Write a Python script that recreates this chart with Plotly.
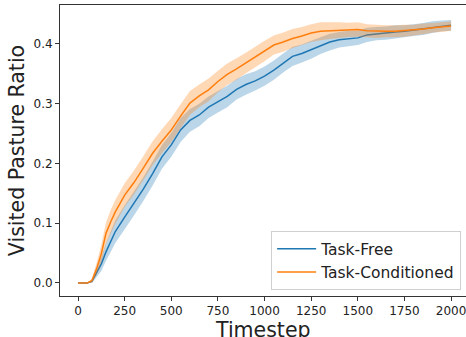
import plotly.graph_objects as go

steps = [0, 25, 50, 75, 100, 125, 150, 175, 200, 250, 300, 350, 400, 450, 500,
         550, 600, 650, 700, 750, 800, 850, 900, 950, 1000, 1050, 1100, 1150,
         1200, 1250, 1300, 1350, 1400, 1450, 1500, 1550, 1600, 1650, 1700,
         1750, 1800, 1850, 1900, 1950, 2000]

free_mean = [0.0, 0.0, 0.0, 0.003, 0.018, 0.032, 0.052, 0.069, 0.086, 0.110,
             0.133, 0.157, 0.183, 0.211, 0.231, 0.256, 0.272, 0.281, 0.294,
             0.303, 0.312, 0.324, 0.332, 0.338, 0.346, 0.356, 0.368, 0.379,
             0.384, 0.390, 0.397, 0.403, 0.407, 0.409, 0.410, 0.415, 0.417,
             0.418, 0.420, 0.421, 0.423, 0.425, 0.428, 0.430, 0.431]
free_err = [0.0, 0.0, 0.0, 0.003, 0.008, 0.012, 0.015, 0.017, 0.019, 0.020,
            0.020, 0.020, 0.020, 0.020, 0.020, 0.020, 0.019, 0.019, 0.018,
            0.018, 0.018, 0.017, 0.017, 0.016, 0.016, 0.016, 0.016, 0.016,
            0.015, 0.015, 0.014, 0.014, 0.013, 0.013, 0.012, 0.012, 0.011,
            0.011, 0.011, 0.010, 0.010, 0.010, 0.010, 0.009, 0.009]

cond_mean = [0.0, 0.0, 0.0, 0.004, 0.024, 0.049, 0.083, 0.102, 0.119, 0.147,
             0.168, 0.192, 0.217, 0.237, 0.256, 0.279, 0.301, 0.313, 0.323,
             0.337, 0.349, 0.358, 0.368, 0.378, 0.388, 0.398, 0.403, 0.409,
             0.413, 0.418, 0.421, 0.422, 0.423, 0.4235, 0.424, 0.422, 0.421,
             0.421, 0.421, 0.422, 0.423, 0.425, 0.427, 0.428, 0.430]
cond_err = [0.0, 0.0, 0.0, 0.004, 0.010, 0.015, 0.018, 0.020, 0.020, 0.020,
            0.020, 0.020, 0.020, 0.020, 0.020, 0.020, 0.020, 0.019, 0.019,
            0.018, 0.018, 0.018, 0.017, 0.017, 0.017, 0.016, 0.016, 0.016,
            0.015, 0.015, 0.015, 0.014, 0.013, 0.012, 0.012, 0.011, 0.011,
            0.010, 0.010, 0.010, 0.009, 0.009, 0.008, 0.008, 0.008]

series = [
    ("Task-Free", free_mean, free_err, "#1f77b4", "rgba(31,119,180,0.3)"),
    ("Task-Conditioned", cond_mean, cond_err, "#ff7f0e", "rgba(255,127,14,0.3)"),
]

fig = go.Figure()
for name, mean, err, col, fillcol in series:
    upper = [m + e for m, e in zip(mean, err)]
    lower = [m - e for m, e in zip(mean, err)]
    fig.add_trace(go.Scatter(x=steps + steps[::-1], y=upper + lower[::-1],
                             fill="toself", fillcolor=fillcol, mode="none",
                             showlegend=False, hoverinfo="skip"))
    fig.add_trace(go.Scatter(x=steps, y=mean, mode="lines", name=name,
                             line=dict(color=col, width=1.5)))

fig.update_layout(
    width=466, height=337,
    margin=dict(l=60, r=0, t=5, b=41),
    plot_bgcolor="white", paper_bgcolor="white",
    font=dict(family="DejaVu Sans", size=12, color="#222"),
    legend=dict(x=0.988, y=0.02, xanchor="right", yanchor="bottom",
                bgcolor="rgba(255,255,255,0.8)", bordercolor="#d0d0d0",
                borderwidth=1, font=dict(size=15.5), tracegroupgap=0,
                itemwidth=39),
)
# x title as an annotation so it can sit a little lower than plotly allows
fig.add_annotation(text="Timestep", xref="paper", yref="paper", x=0.5,
                   y=-0.117, yanchor="middle", showarrow=False,
                   font=dict(size=20.5))
fig.update_xaxes(range=[-96.5, 2080], tickvals=list(range(0, 2001, 250)),
                 showgrid=False, zeroline=False, showline=True, linecolor="#333",
                 linewidth=1, mirror=True, ticks="outside", ticklen=4,
                 tickcolor="#333", automargin=False, ticklabeloverflow="allow")
fig.update_yaxes(range=[-0.0218, 0.465], tickvals=[0, 0.1, 0.2, 0.3, 0.4],
                 tickformat=".1f", showgrid=False, zeroline=False, showline=True,
                 linecolor="#333", linewidth=1, ticks="outside", ticklen=4,
                 tickcolor="#333", automargin=False,
                 title=dict(text="Visited Pasture Ratio", font=dict(size=20.5),
                            standoff=3))

# page body has a default 8px margin; drop it so the figure sits at 0,0
fig.write_html("out.html", config={"displayModeBar": False},
               post_script="document.body.style.margin='0';")
